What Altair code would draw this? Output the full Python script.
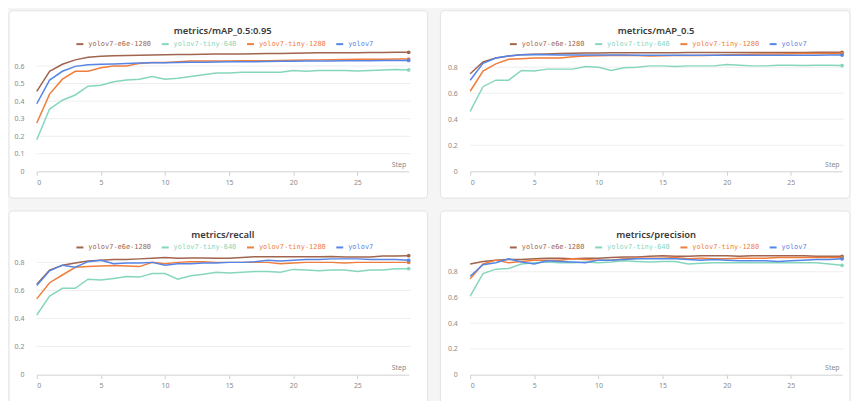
import altair as alt
import pandas as pd

steps = list(range(30))
series = ["yolov7-e6e-1280", "yolov7-tiny-640", "yolov7-tiny-1280", "yolov7"]
colors = ["#a0644f", "#86d6bd", "#ef7d3c", "#5585e6"]

# metrics/mAP_0.5:0.95
map95_e6e = [0.455, 0.57, 0.61, 0.635, 0.65, 0.655, 0.658, 0.66, 0.662, 0.663, 0.664, 0.665, 0.666, 0.667, 0.668,
             0.668, 0.669, 0.670, 0.671, 0.672, 0.673, 0.674, 0.675, 0.675, 0.676, 0.676, 0.677, 0.677, 0.678, 0.678]
map95_t640 = [0.18, 0.355, 0.405, 0.435, 0.485, 0.49, 0.51, 0.52, 0.525, 0.54, 0.525, 0.53, 0.54, 0.55, 0.56,
              0.56, 0.565, 0.565, 0.565, 0.565, 0.575, 0.57, 0.575, 0.575, 0.575, 0.572, 0.575, 0.578, 0.58, 0.578]
map95_t1280 = [0.275, 0.44, 0.525, 0.57, 0.57, 0.59, 0.60, 0.60, 0.615, 0.62, 0.62, 0.625, 0.628, 0.628, 0.628,
               0.628, 0.63, 0.63, 0.63, 0.632, 0.633, 0.634, 0.635, 0.636, 0.637, 0.638, 0.638, 0.638, 0.64, 0.64]
map95_v7 = [0.385, 0.52, 0.57, 0.598, 0.607, 0.61, 0.612, 0.615, 0.617, 0.618, 0.619, 0.62, 0.621, 0.622, 0.623,
            0.624, 0.625, 0.625, 0.626, 0.627, 0.627, 0.628, 0.628, 0.629, 0.63, 0.63, 0.63, 0.631, 0.632, 0.632]

# metrics/mAP_0.5
map5_e6e = [0.75, 0.84, 0.87, 0.885, 0.895, 0.9, 0.902, 0.905, 0.907, 0.908, 0.909, 0.91, 0.91, 0.91, 0.91,
            0.911, 0.911, 0.912, 0.912, 0.912, 0.912, 0.913, 0.913, 0.913, 0.913, 0.913, 0.913, 0.914, 0.914, 0.914]
map5_t640 = [0.46, 0.65, 0.70, 0.70, 0.775, 0.77, 0.785, 0.785, 0.785, 0.805, 0.80, 0.775, 0.795, 0.80, 0.81,
             0.81, 0.805, 0.81, 0.81, 0.81, 0.82, 0.815, 0.81, 0.81, 0.815, 0.815, 0.812, 0.815, 0.815, 0.812]
map5_t1280 = [0.615, 0.77, 0.825, 0.86, 0.865, 0.87, 0.87, 0.87, 0.88, 0.885, 0.888, 0.89, 0.89, 0.89, 0.885,
              0.888, 0.89, 0.89, 0.89, 0.892, 0.895, 0.898, 0.9, 0.902, 0.902, 0.903, 0.905, 0.905, 0.905, 0.905]
map5_v7 = [0.70, 0.83, 0.87, 0.885, 0.895, 0.897, 0.895, 0.893, 0.893, 0.893, 0.893, 0.893, 0.893, 0.892, 0.892,
           0.892, 0.892, 0.892, 0.892, 0.892, 0.892, 0.892, 0.892, 0.892, 0.892, 0.892, 0.892, 0.892, 0.893, 0.893]

# metrics/recall
rec_e6e = [0.645, 0.745, 0.78, 0.795, 0.81, 0.815, 0.82, 0.82, 0.825, 0.83, 0.835, 0.83, 0.832, 0.832, 0.83,
           0.83, 0.835, 0.84, 0.84, 0.84, 0.84, 0.84, 0.84, 0.842, 0.838, 0.838, 0.838, 0.845, 0.845, 0.848]
rec_t640 = [0.425, 0.56, 0.615, 0.615, 0.68, 0.675, 0.685, 0.70, 0.695, 0.72, 0.72, 0.68, 0.705, 0.715, 0.73,
            0.725, 0.73, 0.735, 0.735, 0.73, 0.75, 0.745, 0.74, 0.745, 0.745, 0.735, 0.745, 0.745, 0.755, 0.755]
rec_t1280 = [0.54, 0.655, 0.71, 0.765, 0.77, 0.775, 0.778, 0.775, 0.77, 0.80, 0.79, 0.80, 0.805, 0.805, 0.80,
             0.80, 0.80, 0.80, 0.80, 0.79, 0.795, 0.80, 0.80, 0.80, 0.795, 0.80, 0.80, 0.80, 0.80, 0.80]
rec_v7 = [0.635, 0.74, 0.78, 0.765, 0.805, 0.815, 0.79, 0.795, 0.795, 0.80, 0.78, 0.79, 0.79, 0.795, 0.795,
          0.80, 0.80, 0.805, 0.815, 0.81, 0.815, 0.82, 0.82, 0.825, 0.825, 0.825, 0.82, 0.82, 0.82, 0.815]

# metrics/precision
pre_e6e = [0.86, 0.88, 0.89, 0.895, 0.895, 0.90, 0.905, 0.905, 0.90, 0.905, 0.905, 0.91, 0.915, 0.915, 0.92,
           0.925, 0.92, 0.92, 0.925, 0.925, 0.925, 0.92, 0.925, 0.925, 0.925, 0.925, 0.925, 0.92, 0.92, 0.92]
pre_t640 = [0.61, 0.785, 0.82, 0.825, 0.86, 0.87, 0.875, 0.87, 0.87, 0.875, 0.87, 0.875, 0.885, 0.88, 0.875,
            0.88, 0.88, 0.86, 0.865, 0.87, 0.87, 0.87, 0.87, 0.87, 0.87, 0.87, 0.87, 0.87, 0.86, 0.85]
pre_t1280 = [0.745, 0.86, 0.89, 0.87, 0.88, 0.89, 0.89, 0.89, 0.90, 0.895, 0.89, 0.89, 0.90, 0.905, 0.905,
             0.905, 0.91, 0.90, 0.905, 0.90, 0.90, 0.905, 0.905, 0.905, 0.91, 0.91, 0.91, 0.91, 0.91, 0.91]
pre_v7 = [0.765, 0.855, 0.87, 0.90, 0.875, 0.86, 0.885, 0.88, 0.875, 0.87, 0.89, 0.89, 0.895, 0.90, 0.90,
          0.90, 0.90, 0.895, 0.89, 0.895, 0.89, 0.885, 0.885, 0.885, 0.88, 0.885, 0.89, 0.895, 0.895, 0.90]

x_ticks = [0, 5, 10, 15, 20, 25]
y_ticks_a = [0, 0.1, 0.2, 0.3, 0.4, 0.5, 0.6]
y_ticks_b = [0, 0.2, 0.4, 0.6, 0.8]

W, H = 375, 120

color_expr = " : ".join(
    f"datum.label === '{s}' ? '{c}'" for s, c in zip(series, colors)
) + " : '#888'"


def panel(title, columns, yticks, left, right, top, bottom):
    rows = []
    for s, vals in zip(series, columns):
        for st, v in zip(steps, vals):
            rows.append({"step": st, "series": s, "value": v})
    df = pd.DataFrame(rows)
    ymax = float(df["value"].max())
    yscale = alt.Scale(domain=[0, ymax], nice=False, zero=True)
    xscale = alt.Scale(domain=[0, 29], nice=False)

    yaxis = alt.Axis(
        values=yticks, format="~g", title=None, grid=False, domain=False,
        ticks=False, labelPadding=13, labelFontSize=7, labelColor="#8a8a8a",
        labelFont="Noto Sans", zindex=1,
    )

    card = alt.Chart(alt.Data(values=[{"c": 1}])).mark_rect(
        fill="white", stroke="#e3e3e3", strokeWidth=1, cornerRadius=4
    ).encode(
        x=alt.value(left), x2=alt.value(W + right),
        y=alt.value(top), y2=alt.value(H + bottom),
    )

    head = alt.Chart(alt.Data(values=[{"c": 1}])).mark_text(
        text=title, fontSize=9.5, fontWeight=600, font="Noto Sans", color="#3a3a3a",
        align="center", baseline="middle",
    ).encode(x=alt.value(W / 2), y=alt.value(-21))

    grid = alt.Chart(pd.DataFrame({"t": yticks[1:]})).mark_rule(
        color="#eeeeee", strokeWidth=1
    ).encode(
        y=alt.Y("t:Q", scale=yscale, axis=yaxis),
        x=alt.value(0), x2=alt.value(W + 2),
    )

    color = alt.Color(
        "series:N",
        scale=alt.Scale(domain=series, range=colors),
        legend=alt.Legend(
            orient="none", legendX=39, legendY=-13, direction="horizontal",
            title=None, symbolType="stroke", symbolSize=49, symbolStrokeWidth=2,
            labelFont="DejaVu Sans Mono", labelFontSize=7,
            labelColor={"expr": color_expr},
            columnPadding=6, labelOffset=4, padding=0,
        ),
    )

    x = alt.X(
        "step:Q", scale=xscale,
        axis=alt.Axis(
            values=x_ticks, title="Step", titleX=W - 3, titleY=-4,
            titleAlign="right", titleBaseline="bottom", titleFontSize=7,
            titleFontWeight="normal", titleColor="#8a8a8a", titleFont="Noto Sans",
            labelFontSize=7, labelColor="#8a8a8a", labelFont="Noto Sans",
            domainColor="#d0d0d0", tickColor="#d0d0d0", tickSize=4,
            labelPadding=3, grid=False, zindex=1,
        ),
    )
    y = alt.Y("value:Q", scale=yscale, axis=yaxis)

    lines = alt.Chart(df).mark_line(strokeWidth=1.5).encode(x=x, y=y, color=color)
    dots = alt.Chart(df).transform_filter("datum.step == 29").mark_circle(
        size=14, opacity=1
    ).encode(x=x, y=y, color=alt.Color("series:N", scale=alt.Scale(domain=series, range=colors), legend=None))

    return alt.layer(card, head, grid, lines, dots).properties(width=W, height=H)


p1 = panel("metrics/mAP_0.5:0.95", [map95_e6e, map95_t640, map95_t1280, map95_v7], y_ticks_a, -28, 19, -42, 27)
p2 = panel("metrics/mAP_0.5", [map5_e6e, map5_t640, map5_t1280, map5_v7], y_ticks_b, -30, 8, -42, 27)
p3 = panel("metrics/recall", [rec_e6e, rec_t640, rec_t1280, rec_v7], y_ticks_b, -28, 19, -45, 40)
p4 = panel("metrics/precision", [pre_e6e, pre_t640, pre_t1280, pre_v7], y_ticks_b, -30, 8, -45, 40)


def ind(c):
    return c.resolve_scale(x="independent", y="independent", color="independent").resolve_legend(color="independent")


row1 = ind(alt.hconcat(p1, p2, spacing=11))
row2 = ind(alt.hconcat(p3, p4, spacing=11))
chart = ind(alt.vconcat(row1, row2, spacing=11)).properties(
    padding=0, background="#f5f5f5"
).configure_view(stroke=None)

chart.save("out.html", embed_options={"renderer": "svg", "actions": False})
